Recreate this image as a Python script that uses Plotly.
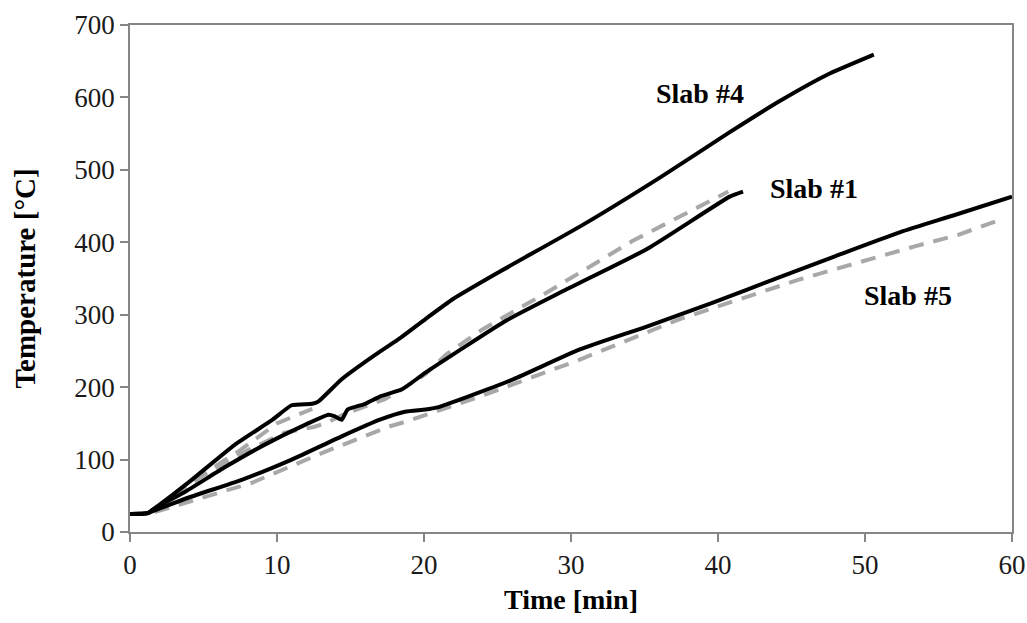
import plotly.graph_objects as go

# Slab #4 measured
t4 = [0, 1.2, 1.7, 4.2, 7.1, 9.7, 11.0, 12.4, 12.8, 14.4, 16.7, 18.4, 20.1, 22.0, 25.2, 30.8, 36.1, 40.8, 44.2, 47.4, 50.6]
T4 = [25, 26, 33, 72, 120, 155, 175, 177, 180, 211, 245, 268, 294, 322, 360, 424, 490, 552, 595, 631, 659]
# Slab #4 model (short)
t4m = [0, 1.3, 2.5, 5.0, 7.5, 10.0, 12.4]
T4m = [25, 25, 42, 80, 113, 150, 170]

# Slab #1 measured
t1 = [0, 1.2, 1.7, 3.7, 6.5, 9.2, 11.9, 13.5, 13.9, 14.4, 14.8, 16.0, 17.0, 18.5, 20.1, 25.6, 29.5, 35.2, 40.8, 41.7]
T1 = [25, 26, 33, 55, 90, 121, 148, 162, 160, 155, 169, 177, 187, 197, 220, 292, 333, 391, 463, 470]
# Slab #1 model
t1m = [0, 1.3, 2.5, 5.3, 8.0, 10.5, 12.5, 13.3, 14.6, 15.5, 17.3, 18.5, 20.1, 21.5, 24.0, 28.3, 34.2, 40.7]
T1m = [25, 25, 45, 82, 113, 137, 145, 150, 163, 170, 183, 197, 218, 245, 280, 330, 402, 470]

# Slab #5 measured
t5 = [0, 1.2, 1.7, 4.2, 7.6, 11.0, 14.4, 17.0, 18.7, 20.1, 20.9, 23.0, 26.1, 30.6, 35.2, 39.7, 44.2, 48.0, 52.4, 56.0, 60.0]
T5 = [25, 26, 30, 49, 72, 100, 132, 155, 166, 169, 172, 187, 211, 252, 284, 317, 352, 381, 414, 437, 463]
# Slab #5 model
t5m = [0, 1.3, 2.6, 5.0, 8.3, 13.3, 17.7, 18.7, 23.8, 30.6, 37.4, 43.5, 45.6, 53.5, 56.3, 59.3]
T5m = [25, 25, 33, 48, 68, 111, 146, 152, 187, 238, 294, 335, 349, 395, 410, 432]

labels = ["Slab #4", "Slab #1", "Slab #5"]
label_t = [38.8, 46.5, 52.9]
label_T = [606, 474, 327]

x_ticks = [0, 10, 20, 30, 40, 50, 60]
y_ticks = [0, 100, 200, 300, 400, 500, 600, 700]

FONT = "Liberation Serif, Times New Roman, serif"
GRAY = "#a8a8a8"

fig = go.Figure()
for tt, TT in [(t4m, T4m), (t1m, T1m), (t5m, T5m)]:
    fig.add_trace(go.Scatter(x=tt, y=TT, mode="lines",
                             line=dict(color=GRAY, width=4, dash="15px,10px"),
                             showlegend=False, hoverinfo="skip"))
for tt, TT in [(t4, T4), (t1, T1), (t5, T5)]:
    fig.add_trace(go.Scatter(x=tt, y=TT, mode="lines",
                             line=dict(color="black", width=4, shape="spline", smoothing=0.5),
                             showlegend=False))

for lab, lx, ly in zip(labels, label_t, label_T):
    fig.add_annotation(x=lx, y=ly, text="<b>" + lab + "</b>", showarrow=False,
                       font=dict(family=FONT, size=28, color="black"))

axis_common = dict(showline=True, linecolor="#868686", linewidth=1.5, mirror=True,
                   ticks="outside", ticklen=8, tickcolor="#868686", tickwidth=1.5,
                   showgrid=False, zeroline=False, automargin=False,
                   tickfont=dict(family=FONT, size=27, color="#1a1a1a"))

fig.update_layout(
    width=1027, height=623,
    margin=dict(l=130, r=15, t=25, b=91),
    paper_bgcolor="white", plot_bgcolor="white",
    xaxis=dict(range=[0, 60], tickvals=x_ticks,
               title=dict(text="<b>Time [min]</b>", font=dict(family=FONT, size=28, color="black"), standoff=10),
               **axis_common),
    yaxis=dict(range=[0, 700], tickvals=y_ticks,
               title=dict(text="<b>Temperature [°C]</b>", font=dict(family=FONT, size=29, color="black"), standoff=30),
               **axis_common),
)

fig.write_html("out.html")
